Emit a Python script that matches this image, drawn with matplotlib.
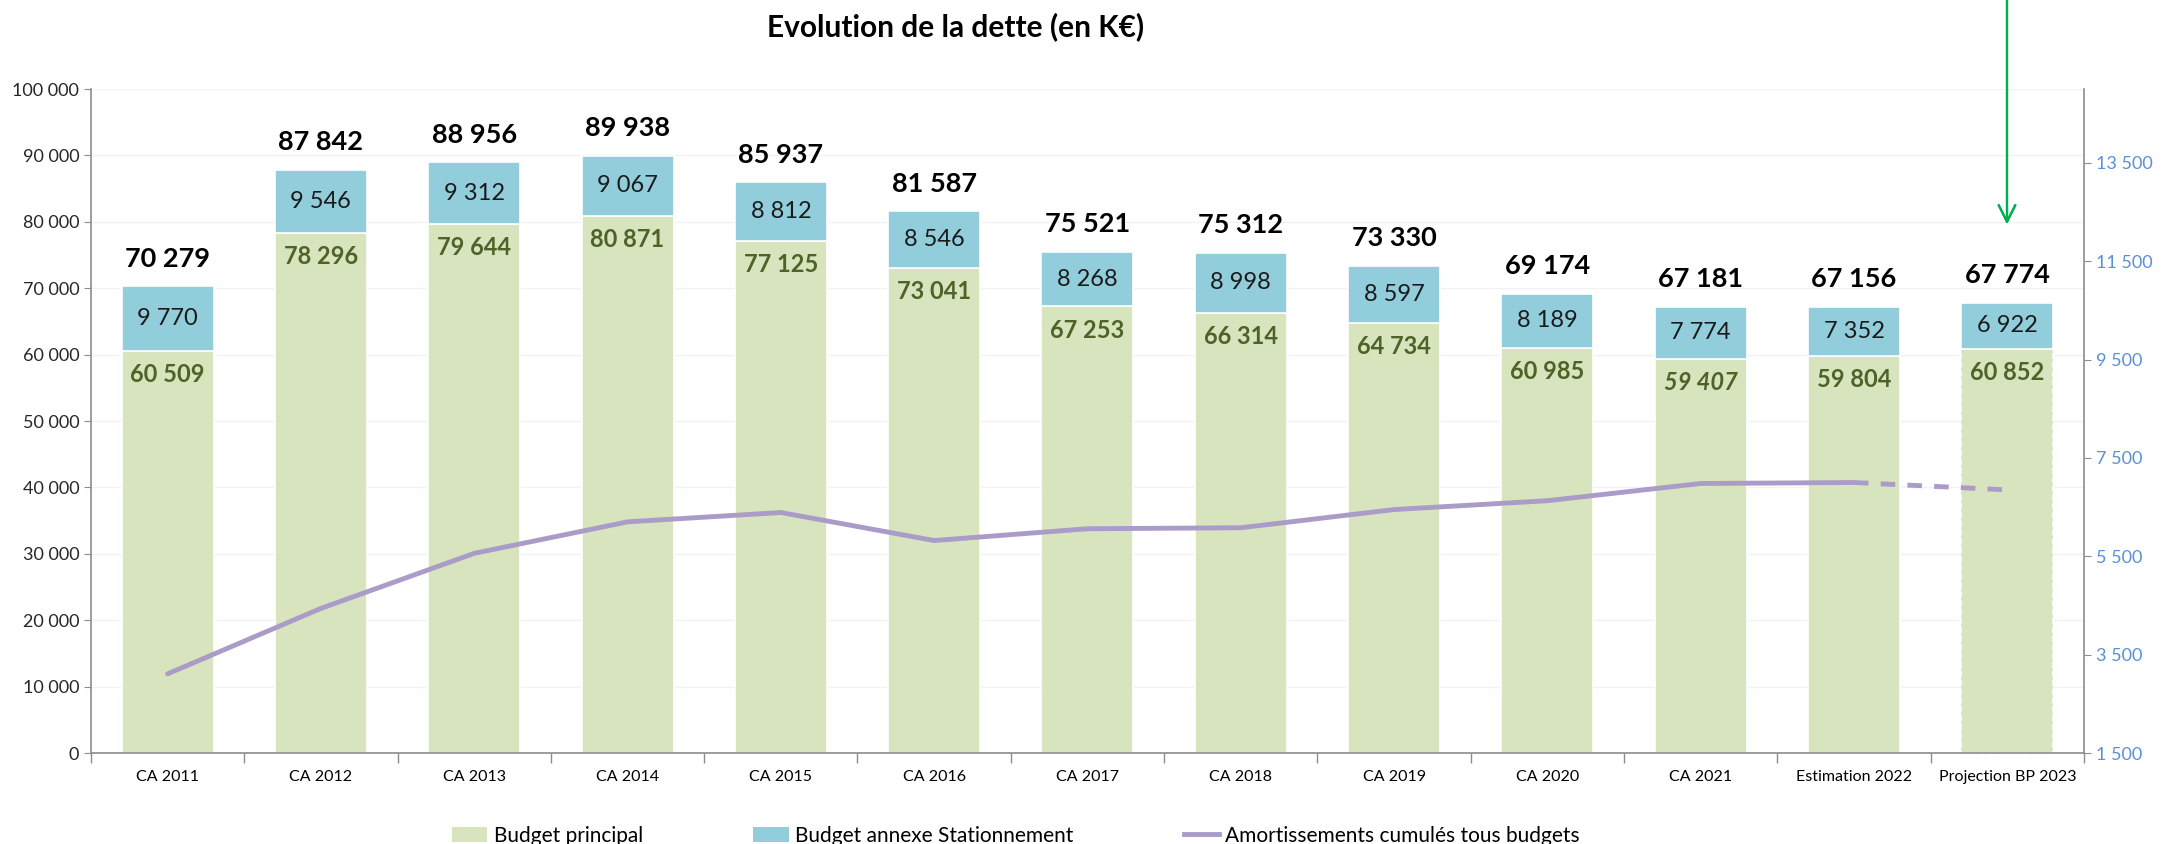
import matplotlib.pyplot as plt
from matplotlib.ticker import FuncFormatter, FixedLocator
from matplotlib.patches import Patch
from matplotlib.lines import Line2D

plt.rcParams['font.family'] = ['Lato', 'DejaVu Sans']

categories = ['CA 2011', 'CA 2012', 'CA 2013', 'CA 2014', 'CA 2015', 'CA 2016', 'CA 2017',
              'CA 2018', 'CA 2019', 'CA 2020', 'CA 2021', 'Estimation 2022', 'Projection BP 2023']
budget_principal = [60509, 78296, 79644, 80871, 77125, 73041, 67253, 66314, 64734, 60985, 59407, 59804, 60852]
budget_stationnement = [9770, 9546, 9312, 9067, 8812, 8546, 8268, 8998, 8597, 8189, 7774, 7352, 6922]
totals = [70279, 87842, 88956, 89938, 85937, 81587, 75521, 75312, 73330, 69174, 67181, 67156, 67774]
amortissements = [3110, 4440, 5560, 6200, 6390, 5820, 6060, 6080, 6450, 6630, 6980, 7000, 6850]

GREEN = '#D7E4BD'
BLUE = '#92CDDC'
PURPLE = '#AB9BC9'
AXIS_GRAY = '#8C8C8C'


def fr(v, pos=None):
    return f'{int(v):,}'.replace(',', ' ')


fig = plt.figure(figsize=(21.71, 8.44), dpi=100)
ax = fig.add_axes([0.0419, 0.1078, 0.918, 0.7867])
x = list(range(len(categories)))

bars_p = ax.bar(x, budget_principal, width=0.6, color=GREEN, edgecolor='white', linewidth=1.2, zorder=2)
bars_s = ax.bar(x, budget_stationnement, width=0.6, bottom=budget_principal, color=BLUE,
                edgecolor='white', linewidth=1.2, zorder=2)
# projection bar outlined with dashes
bars_p[-1].set_linestyle('--')

ax.set_xlim(-0.5, len(categories) - 0.5)
ax.set_ylim(0, 100000)
ax.yaxis.set_major_locator(FixedLocator(range(0, 100001, 10000)))
ax.yaxis.set_major_formatter(FuncFormatter(fr))
ax.grid(axis='y', color='#F2F2F2', linewidth=1, zorder=0)
ax.set_axisbelow(True)

ax.set_xticks(x)
ax.set_xticklabels(categories)
ax.set_xticks([i - 0.5 for i in range(len(categories) + 1)], minor=True)
ax.tick_params(axis='x', which='major', length=0, pad=12, labelsize=11.5, colors='#000000')
ax.tick_params(axis='x', which='minor', length=7, color=AXIS_GRAY, width=1)
ax.tick_params(axis='y', length=5, color=AXIS_GRAY, labelsize=13, labelcolor='#262626')

for side in ['top', 'right']:
    ax.spines[side].set_visible(False)
for side in ['left', 'bottom']:
    ax.spines[side].set_color(AXIS_GRAY)
    ax.spines[side].set_linewidth(1.2)

for i in x:
    p = budget_principal[i]
    s = budget_stationnement[i]
    ax.annotate(fr(totals[i]), (i, p + s), xytext=(0, 20), textcoords='offset points',
                ha='center', va='center', fontsize=19.5, fontweight='bold', color='#000000')
    ax.text(i, p + s / 2, fr(s), ha='center', va='center', fontsize=17, color='#1A1A1A', zorder=4)
    ax.annotate(fr(p), (i, p), xytext=(0, -17), textcoords='offset points',
                ha='center', va='center', fontsize=17, fontweight='bold', color='#4F6228',
                fontstyle='italic' if i == 10 else 'normal', zorder=4)

ax2 = ax.twinx()
ax2.set_ylim(1500, 15000)
ax2.yaxis.set_major_locator(FixedLocator(range(1500, 13501, 2000)))
ax2.yaxis.set_major_formatter(FuncFormatter(fr))
ax2.tick_params(axis='y', length=5, color=AXIS_GRAY, labelsize=13, labelcolor='#5B8FD6')
for side in ['top', 'left', 'bottom']:
    ax2.spines[side].set_visible(False)
ax2.spines['right'].set_color(AXIS_GRAY)
ax2.spines['right'].set_linewidth(1.2)

ax2.plot(x[:-1], amortissements[:-1], color=PURPLE, linewidth=3.5, solid_capstyle='round', zorder=3)
ax2.plot(x[-2:], amortissements[-2:], color=PURPLE, linewidth=3.5, linestyle=(0, (3, 2.5)), zorder=3)

fig.text(0.44, 0.968, 'Evolution de la dette (en K€)', ha='center', va='center',
         fontsize=21.5, fontweight='bold')

handles = [Patch(facecolor=GREEN, edgecolor='none'),
           Patch(facecolor=BLUE, edgecolor='none'),
           Line2D([0], [0], color=PURPLE, linewidth=3.5)]
labels = ['Budget principal', 'Budget annexe Stationnement', 'Amortissements cumulés tous budgets']
fig.legend(handles, labels, loc='center', bbox_to_anchor=(0.468, 0.01), ncol=3, frameon=False,
           fontsize=15, handlelength=1.7, handletextpad=0.3, columnspacing=5.3)

# green pointer above the projection
fig.add_artist(plt.annotate('', xy=(2007 / 2171, 1 - 227 / 844), xytext=(2007 / 2171, 1.02),
                            xycoords='figure fraction', textcoords='figure fraction',
                            arrowprops=dict(arrowstyle='->,head_length=1.2,head_width=0.6',
                                            color='#00B050', linewidth=1.6)))

fig.savefig('out.png', dpi=100)
